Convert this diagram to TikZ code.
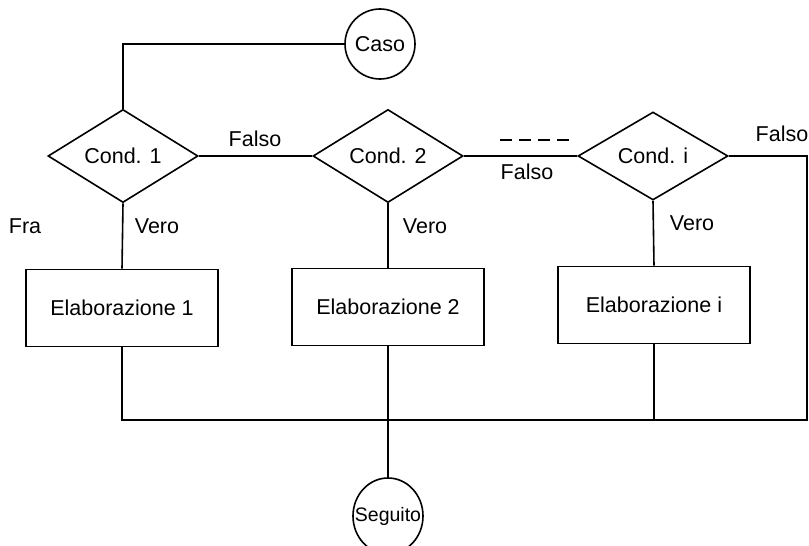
\documentclass[tikz,border=0pt]{standalone}
\usepackage{fontspec}
\setmainfont{Liberation Sans}
\usetikzlibrary{shapes.geometric}
\begin{document}
\begin{tikzpicture}[x=1pt,y=-1pt,
  every node/.style={font=\fontsize{21.5}{24}\selectfont},
  flow/.style={line width=1.6pt},
  cond/.style={draw,line width=1.6pt,diamond,minimum width=150pt,minimum height=88pt,inner sep=0pt},
  proc/.style={draw,line width=1.6pt,rectangle,minimum width=192pt,minimum height=77pt,inner sep=0pt},
  term/.style={draw,line width=1.6pt,circle,minimum size=70pt,inner sep=0pt},
  lbl/.style={inner sep=0pt}]
\useasboundingbox (0,0) rectangle (809,546);
\clip (0,0) rectangle (809,546);

% start and end terminals
\node[term] (caso) at (380,44) {Caso};
\node[draw,line width=1.6pt,ellipse,minimum width=70pt,minimum height=76pt,inner sep=0pt] (seg) at (388,516) {};
\node[lbl,font=\fontsize{19.5}{22}\selectfont] (segtxt) at (seg.center) {Seguito};

% conditions
\node[cond] (c1) at (123,156) {Cond. 1};
\node[cond] (c2) at (388,156) {Cond. 2};
\node[cond] (ci) at (653,156) {Cond. i};

% processing blocks
\node[proc] (e1) at (122,308) {Elaborazione 1};
\node[proc] (e2) at (388,307) {Elaborazione 2};
\node[proc] (ei) at (654,305) {Elaborazione i};

% collecting line at the bottom
\coordinate (rc) at (807,420);

% connectors
\draw[flow] (caso.west) -| (c1.north);
\draw[flow] (c1.east) -- (c2.west);
\draw[flow] (c2.east) -- (ci.west);
\draw[flow] (ci.east) -| (rc) -- (e1.south |- rc) -- (e1.south);
\draw[flow] (c1.south) -- (e1.north);
\draw[flow] (c2.south) -- (e2.north);
\draw[flow] (ci.south) -- (ei.north);
\draw[flow] (e2.south) -- (seg.north);
\draw[flow] (ei.south) -- (ei.south |- rc);

% omitted intermediate conditions
\draw[flow,dash pattern=on 12pt off 7pt] (500,140) -- (570,140);

% branch labels
\node[lbl] (f1) at (255,139) {Falso};
\node[lbl] (f2) at (527,172) {Falso};
\node[lbl] (f3) at (782,134) {Falso};
\node[lbl] (v1) at (157,226) {Vero};
\node[lbl] (v2) at (425,226) {Vero};
\node[lbl] (vi) at (692,223) {Vero};
\node[lbl] (fra) at (25,226) {Fra};
\end{tikzpicture}
\end{document}
